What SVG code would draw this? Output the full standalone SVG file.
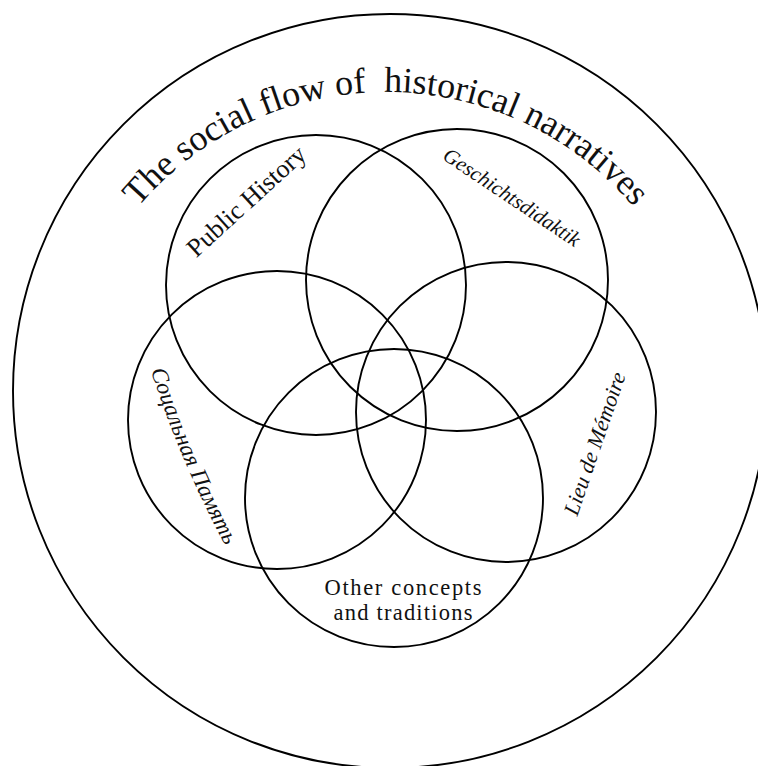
<svg xmlns="http://www.w3.org/2000/svg" width="758" height="766" viewBox="0 0 758 766">
<style>
.c{fill:none;stroke:#000;stroke-width:1.9}
.t{font-family:"Liberation Serif","DejaVu Serif",serif;fill:#111}
.i{font-style:italic}
</style>
<defs>
<path id="titleArc" d="M 105.4,254 A 324,324 0 0 1 666.6,254"/>
<path id="socArc" d="M 146,355 Q 178,460 233,560"/>
</defs>
<rect width="758" height="766" fill="#fff"/>
<g id="outer"><circle class="c" cx="390" cy="391" r="377"/></g>
<g id="title"><text class="t" font-size="36"><textPath href="#titleArc" startOffset="50%" text-anchor="middle" textLength="564" lengthAdjust="spacing">The social flow of&#160; historical narratives</textPath></text></g>
<g id="public-history">
<circle class="c" cx="316" cy="285" r="150"/>
<text class="t" font-size="26" text-anchor="middle" transform="translate(252,207.5) rotate(-42.3)">Public History</text>
</g>
<g id="geschichtsdidaktik">
<circle class="c" cx="457" cy="280" r="151"/>
<text class="t i" font-size="21" text-anchor="middle" transform="translate(508,203) rotate(33.8)">Geschichtsdidaktik</text>
</g>
<g id="social-memory">
<circle class="c" cx="277" cy="420" r="149"/>
<text class="t i" font-size="23"><textPath href="#socArc" startOffset="50%" text-anchor="middle">Соцальная Память</textPath></text>
</g>
<g id="lieu-de-memoire">
<circle class="c" cx="506" cy="412" r="150"/>
<text class="t i" font-size="22" text-anchor="middle" transform="translate(601.6,446) rotate(-71)">Lieu de Mémoire</text>
</g>
<g id="other">
<circle class="c" cx="394" cy="498" r="149"/>
<text class="t" font-size="22.5" text-anchor="middle"><tspan x="403" y="595" textLength="157" lengthAdjust="spacing">Other concepts</tspan><tspan x="403" y="620" textLength="139" lengthAdjust="spacing">and traditions</tspan></text>
</g>
<g id="connectors"></g>
</svg>
